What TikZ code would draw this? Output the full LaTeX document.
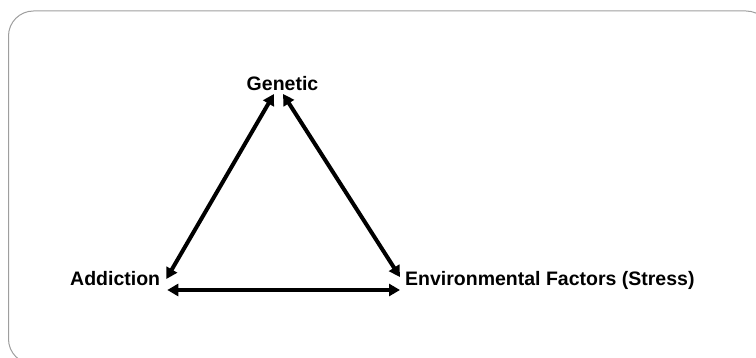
\documentclass[tikz,border=0pt]{standalone}
\usepackage{fontspec}
\setmainfont{Liberation Sans}
\usetikzlibrary{arrows.meta,calc}
\begin{document}
\begin{tikzpicture}[x=1pt,y=-1pt,
  lbl/.style={inner sep=0pt,font=\fontsize{19.5}{23}\selectfont\bfseries,text=black},
  link/.style={line width=4pt,black,{Triangle[length=11pt,width=12pt]}-{Triangle[length=11pt,width=12pt]}}]
\useasboundingbox (0,0) rectangle (756,358);
\clip (0,0) rectangle (756,358);
\draw[black!38,line width=1pt,rounded corners=25pt] (8.5,11) rectangle (771,364);
\node[lbl,anchor=base] (gen) at (282.5,90.5) {Genetic};
\node[lbl,anchor=base west] (add) at (70,286) {Addiction};
\node[lbl,anchor=base west] (env) at (405,285.5) {Environmental Factors (Stress)};
\coordinate (g1) at ($(gen.base)+(-8.5,3.5)$);
\coordinate (g2) at ($(gen.base)+(0.5,3.5)$);
\coordinate (a1) at ($(add.base east)+(6,-7)$);
\coordinate (a2) at ($(add.base east)+(7,4)$);
\coordinate (e1) at ($(env.base west)+(-5,-8.5)$);
\coordinate (e2) at ($(env.base west)+(-5,4.5)$);
\draw[link] (a1) -- (g1);
\draw[link] (g2) -- (e1);
\draw[link] (a2) -- (e2);
\end{tikzpicture}
\end{document}
